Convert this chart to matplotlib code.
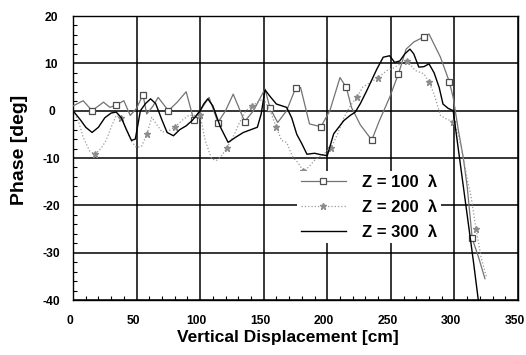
import numpy as np
import matplotlib.pyplot as plt
import matplotlib.transforms as mtransforms

# Du lieu doc tu hinh
z100_x = [0, 8, 15, 24, 29, 34, 40, 45, 50, 55, 58, 63, 67, 75, 82, 89, 95, 100, 107, 114, 120, 126, 135, 142, 151, 155,
          161, 168, 175, 179, 186, 195, 202, 210, 215, 219, 226, 235, 241, 249, 256, 262, 268, 276, 280, 289, 296, 299,
          303, 307, 310, 314, 319, 324]
z100_y = [1, 2.1, 0, 1.8, 0.7, 1.2, 2.1, -1.0, 0.5, 3.4, -0.7, 1.0, 2.8, 0, 1.8, 4.0, -2, 0, 2.8, -2.5, 0, 3.5, -2.3, 0,
          4.6, 0.5, -2.5, 0, 4.7, 4.9, -2.8, -3.4, 0, 7, 4.9, 0.7, -3, -6.2, -2.1, 2.8, 7.8, 13, 14.5, 15.6, 16.2, 11.3,
          6.1, 2.8, -4, -10, -16, -27, -31, -35.5]
z100_marks = [15, 34, 55, 75, 95, 114, 135, 155, 175, 195, 215, 235, 256, 276, 296, 314]

z200_x = [0, 4, 8, 13, 17, 22, 26, 30, 34, 38, 42, 46, 50, 54, 58, 62, 66, 70, 75, 80, 86, 91, 96, 100, 104, 109, 113,
          117, 121, 126, 131, 136, 141, 146, 150, 155, 160, 164, 168, 173, 177, 181, 185, 190, 197, 203, 208, 213, 218,
          223, 228, 234, 240, 247, 252, 258, 263, 269, 276, 280, 284, 289, 294, 299, 303, 307, 310, 313, 317, 321, 325]
z200_y = [0, -2, -5.6, -8.5, -9.2, -8, -6.3, -3.5, -1, -1.5, -4, -6.5, -7.8, -7.5, -5, -1.4, -3, -4.5, -4.3, -3.5, -2,
          -1, -1, -1, -6.3, -10.2, -10.5, -9.5, -7.8, -5.5, -2.5, 0, 1, 2, 2.5, 0, -3.5, -6.3, -6.7, -9.9, -11, -12.7,
          -12, -10.5, -9.2, -7.8, -5, -1.5, 1, 2.8, 5, 6, 7, 8.5, 9, 10, 10.6, 8.5, 7.8, 6, 3.5, -1, -1.8, -2.3, -5,
          -10, -14.4, -18, -25, -31, -35]
z200_marks = [17, 38, 58, 80, 100, 121, 141, 160, 181, 203, 223, 240, 263, 280, 299, 317]

z300_x = [0, 6, 10, 15, 20, 25, 30, 34, 38, 42, 46, 49, 53, 57, 61, 65, 70, 74, 79, 84, 89, 94, 100, 103, 106, 110, 116,
          122, 128, 134, 140, 145, 148, 151, 155, 160, 168, 172, 176, 180, 184, 190, 195, 200, 205, 213, 218, 222, 226,
          231, 235, 239, 244, 249, 253, 257, 261, 265, 268, 272, 276, 280, 284, 288, 291, 295, 299, 301, 305, 310, 315,
          319]
z300_y = [0, -2, -3.5, -4.6, -3.5, -1.5, -0.5, -0.3, -1.5, -4, -6.3, -6, 0, 1.5, 2.5, 1.5, -2, -4.6, -5.3, -4, -3.2, -2,
          0, 1.5, 2.5, 1, -3.5, -6.7, -5.6, -4.6, -4, -3.5, -0.7, 4.4, 3, 1.4, 0.7, -1.5, -5, -7, -9.2, -9, -9.3, -9.5,
          -4.9, -2.1, -1, -0.3, 1.5, 4.2, 6.5, 8.8, 11.3, 11.6, 10.2, 10.5, 12, 13, 12, 9.2, 9.3, 9.9, 8, 4.9, 1.4, 0.5,
          0, -4, -12, -22, -32, -40.5]

nhan = ['Z = 100  λ', 'Z = 200  λ', 'Z = 300  λ']
x_ticks = [0, 50, 100, 150, 200, 250, 300, 350]
y_ticks = [-40, -30, -20, -10, 0, 10, 20]

plt.rcParams['font.family'] = ['Liberation Sans', 'DejaVu Sans']
plt.rcParams['axes.unicode_minus'] = False

fig = plt.figure(figsize=(5.26, 3.55), dpi=100)
ax = fig.add_axes([0.1388, 0.1549, 0.846, 0.80])

m100 = [z100_x.index(v) for v in z100_marks]
m200 = [z200_x.index(v) for v in z200_marks]

ax.plot(z100_x, z100_y, color='0.45', lw=0.9, marker='s', markersize=5, markerfacecolor='white',
        markeredgecolor='0.3', markeredgewidth=0.9, markevery=m100, label=nhan[0], zorder=3)
ax.plot(z200_x, z200_y, color='0.6', lw=0.9, ls=':', marker='*', markersize=5, markerfacecolor='0.55',
        markeredgecolor='0.55', markevery=m200, label=nhan[1], zorder=3)
ax.plot(z300_x, z300_y, color='black', lw=1.0, label=nhan[2], zorder=3)

ax.set_xlim(0, 350)
ax.set_ylim(-40, 20)
ax.set_xticks(x_ticks)
ax.set_yticks(y_ticks)
ax.set_xticks(np.arange(0, 351, 10), minor=True)
ax.set_yticks(np.arange(-40, 21, 2), minor=True)
ax.tick_params(which='both', direction='in', length=3, width=0.8)
ax.tick_params(which='major', length=0)
ax.tick_params(axis='x', which='major', pad=11)
ax.tick_params(axis='y', which='major', pad=15.5)
ax.grid(True, which='major', color='black', lw=1.1)
ax.set_axisbelow(True)
for s in ax.spines.values():
    s.set_linewidth(1.0)

dich = mtransforms.ScaledTranslation(-3.5 / 100, 0, fig.dpi_scale_trans)
for lab in ax.get_xticklabels():
    lab.set_fontweight('bold')
    lab.set_fontsize(8.7)
    lab.set_transform(lab.get_transform() + dich)
for lab in ax.get_yticklabels():
    lab.set_fontweight('bold')
    lab.set_fontsize(8.7)
    lab.set_ha('center')

ax.set_xlabel('Vertical Displacement [cm]', fontsize=12.5, fontweight='bold')
ax.set_ylabel('Phase [deg]', fontsize=14, fontweight='bold')
ax.xaxis.set_label_coords(0.483, -0.105)
ax.yaxis.set_label_coords(-0.101, 0.53)

leg = ax.legend(loc='center', bbox_to_anchor=(0.665, 0.327), frameon=True,
                prop={'weight': 'bold', 'size': 12}, handlelength=2.7, labelspacing=0.6,
                borderpad=0.2, handletextpad=1.0)
leg.get_frame().set_edgecolor('none')
leg.get_frame().set_facecolor('white')
leg.get_frame().set_alpha(1)

plt.savefig('out.png', dpi=100)
